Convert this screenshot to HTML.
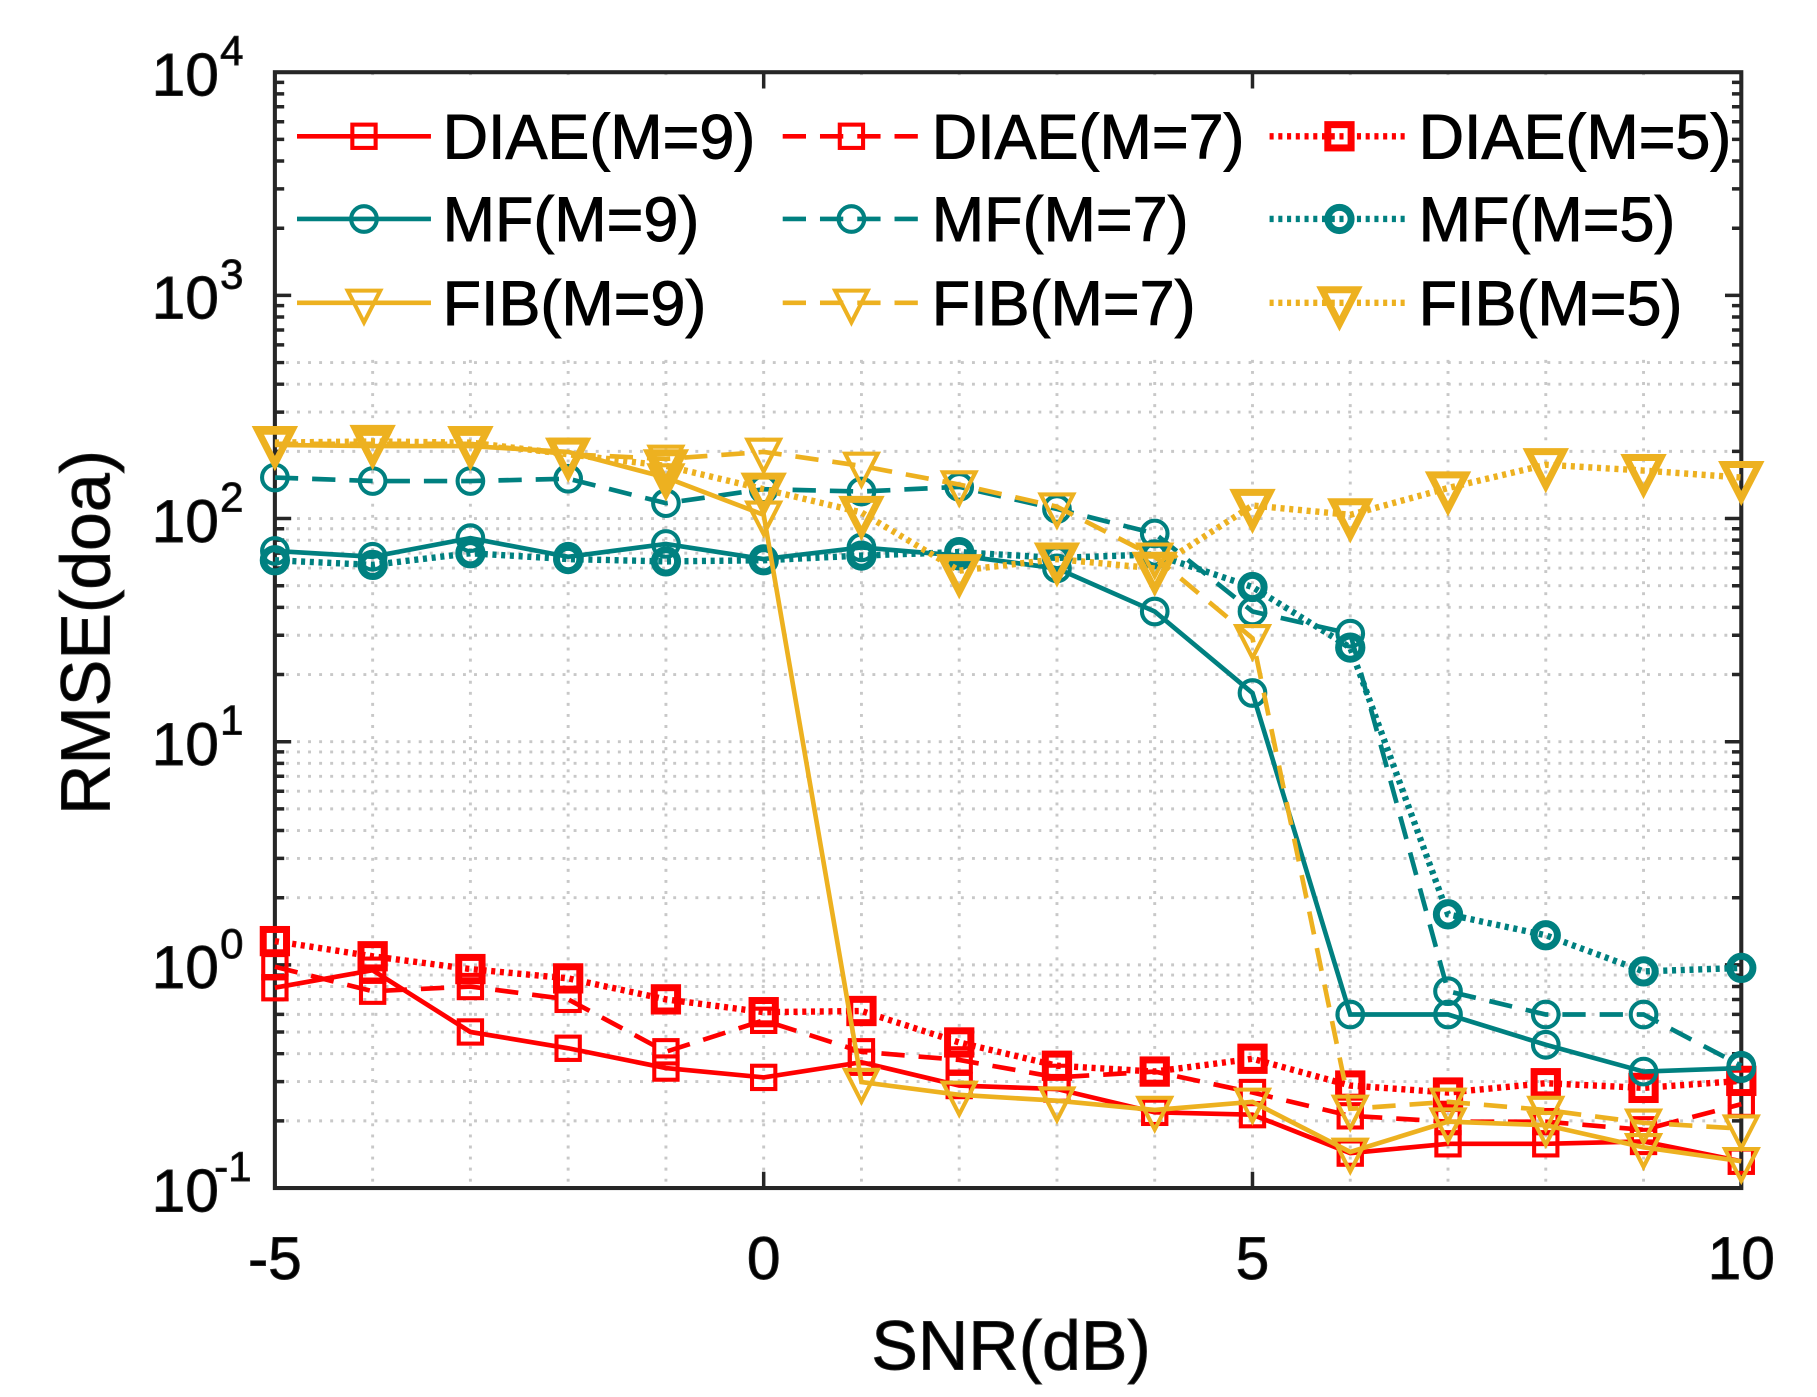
<!DOCTYPE html>
<html><head><meta charset="utf-8"><style>
html,body{margin:0;padding:0;background:#fff;}
svg{display:block;}
text{font-family:"Liberation Sans",Arial,sans-serif;fill:#000;}
</style></head><body>
<svg id="s" width="1817" height="1397" viewBox="0 0 1560 1199.4" preserveAspectRatio="none" xmlns="http://www.w3.org/2000/svg"></svg>
<script>
const s=document.getElementById('s');
let h='';
const L=236,R=1495,T=62,B=1020;
const X=v=>L+(v+5)*(R-L)/15;
const Y=d=>B-(d+1)*(B-T)/5;
let g='';
for(let i=-4;i<10;i++){g+=`M${X(i)} ${T}V${B}`;}
for(let d=-1;d<4;d++){for(let k=1;k<10;k++){if(d==-1&&k==1)continue;const y=Y(d+Math.log10(k));g+=`M${L} ${y}H${R}`;}}
h+=`<path d="${g}" stroke="#c8c8c8" stroke-width="2.5" stroke-dasharray="2.5 7" fill="none"/>`;
h+=`<rect x="240" y="66" width="1252" height="238" fill="#fff"/>`;
let t='';
for(let i=-5;i<=10;i+=5){t+=`M${X(i)} ${B}v-14M${X(i)} ${T}v14`;}
for(let d=-1;d<4;d++){for(let k=1;k<10;k++){const y=Y(d+Math.log10(k));const l=k==1?14:8;t+=`M${L} ${y}h${l}M${R} ${y}h-${l}`;}}
h+=`<path d="${t}" stroke="#262626" stroke-width="3" fill="none"/>`;
h+=`<rect x="${L}" y="${T}" width="${R-L}" height="${B-T}" fill="none" stroke="#262626" stroke-width="3.5"/>`;
const st=`stroke="#262626" stroke-width="0.8"`;
[-5,0,5,10].forEach(v=>{h+=`<text x="${X(v)}" y="1098" font-size="52" text-anchor="middle" fill="#262626" ${st}>${v}</text>`;});
for(let d=-1;d<=4;d++){const yy=B-(d+1)*(B-T)/5;
h+=`<text x="188" y="${yy+20}" font-size="52" text-anchor="end" fill="#262626" ${st}>10</text><text x="${d<0?184:189}" y="${yy-6}" font-size="36" fill="#262626" ${st}>${d}</text>`;}
h+=`<text x="868" y="1176" font-size="60" text-anchor="middle" fill="#262626" ${st}>SNR(dB)</text>`;
h+=`<text transform="translate(94,543) rotate(-90)" font-size="60" text-anchor="middle" fill="#262626" ${st}>RMSE(doa)</text>`;
const xs=[...Array(16).keys()].map(i=>X(i-5));
const red='#ff0000',teal='#008080',yel='#edb120';
const ser=[
 [red,'s',9,[848,833,886,900,917,925,912,932,935,955,957,990,982,982,980,997]],
 [red,'d',7,[830,851,847,858,903,876,903,910,925,920,938,958,963,963,970,948]],
 [red,'o',5,[808,821,832,840,858,869,868,895,915,920,909,932,938,930,934,928]],
 [teal,'s',9,[473,478,462,478,467,480,470,477,488,525,595,871,871,897,920,917]],
 [teal,'d',7,[410,413,413,411,432,420,422,418,437,458,525,544,851,871,871,915]],
 [teal,'o',5,[481,485,475,480,482,481,477,474,479,476,504,556,785,803,834,831]],
 [yel,'s',9,[382,383,383,388,410,442,929,940,945,953,946,989,963,966,985,997]],
 [yel,'d',7,[381,381,381,390,394,388,400,416,435,478,548,952,946,953,964,969]],
 [yel,'o',5,[380,379,380,390,400,420,440,490,480,488,434,442,419,399,404,410]]];
const dash={s:'',d:'20 12',o:'3.5 4'};
function mk(type,c,x,y,big){
 const sw=big?6:3.5, r=10;
 if(type==0) return `<rect x="${x-r}" y="${y-r}" width="${2*r}" height="${2*r}" fill="none" stroke="${c}" stroke-width="${sw}"/>`;
 if(type==1) return `<circle cx="${x}" cy="${y}" r="${big?10:11}" fill="none" stroke="${c}" stroke-width="${sw}"/>`;
 const a=big?15:14;return `<path d="M${x-a} ${y-a*0.75}H${x+a}L${x} ${y+a*1.2}Z" fill="none" stroke="${c}" stroke-width="${sw}"/>`;
}
ser.forEach((sr,i)=>{
 const [c,stl,m,ys]=sr;const type=Math.floor(i/3);const big=m==5;
 const pts=ys.map((y,j)=>`${xs[j]},${y}`).join(' ');
 h+=`<polyline points="${pts}" fill="none" stroke="${c}" stroke-width="${big?5.5:4}" ${dash[stl]?`stroke-dasharray="${dash[stl]}"`:''}/>`;
 ys.forEach((y,j)=>{h+=mk(type,c,xs[j],y,big);});
});
const names=['DIAE','MF','FIB'],ms=[9,7,5],cols=[[255,370,380],[672,790,800],[1090,1210,1218]],rows=[117,188,260],cc=[red,teal,yel];
for(let r=0;r<3;r++)for(let k=0;k<3;k++){
 const [x1,x2,tx]=cols[k],y=rows[r],stl=['s','d','o'][k],big=k==2;
 h+=`<line x1="${x1}" y1="${y}" x2="${x2}" y2="${y}" stroke="${cc[r]}" stroke-width="${big?5.5:4}" ${dash[stl]?`stroke-dasharray="${dash[stl]}"`:''}/>`;
 h+=mk(r,cc[r],(x1+x2)/2,y,big);
 h+=`<text x="${tx}" y="${y+19}" font-size="54" stroke="#000" stroke-width="0.8">${names[r]}(M=${ms[k]})</text>`;
}
s.innerHTML=h;
</script>
</body></html>
